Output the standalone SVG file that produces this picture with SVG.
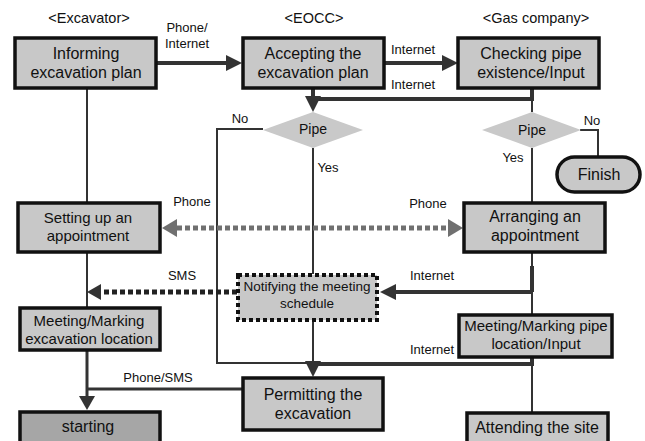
<svg xmlns="http://www.w3.org/2000/svg" width="645" height="441" viewBox="0 0 645 441">
<style>
text{font-family:"Liberation Sans",Arial,sans-serif;fill:#111;text-anchor:middle}
.t{font-size:14.5px}
.b{font-size:16px}
.m{font-size:15px}
.s{font-size:13px}
.box{fill:#c8c8c8;stroke:#111;stroke-width:3.5}
.dark{fill:#a6a6a6}
.dia{fill:#c9c9c9;stroke:none}
.thin{fill:none;stroke:#333;stroke-width:2}
.thick{fill:none;stroke:#333;stroke-width:4}
.mid{fill:none;stroke:#333;stroke-width:3}
.gdot{fill:none;stroke:#707070;stroke-width:5;stroke-dasharray:5 3}
.kdot{fill:none;stroke:#222;stroke-width:5;stroke-dasharray:5 3}
.ndot{fill:#c8c8c8;stroke:#111;stroke-width:4;stroke-dasharray:4 3}
</style>
<defs>
<marker id="ah" markerUnits="userSpaceOnUse" markerWidth="16" markerHeight="16" refX="0" refY="8" orient="auto" overflow="visible">
<path d="M0,0 L16,8 L0,16 z" fill="#333"/>
</marker>
<marker id="ahg" markerUnits="userSpaceOnUse" markerWidth="16" markerHeight="18" refX="0" refY="9" orient="auto-start-reverse" overflow="visible">
<path d="M0,0 L15,9 L0,18 z" fill="#707070"/>
</marker>
<marker id="ahs" markerUnits="userSpaceOnUse" markerWidth="14" markerHeight="16" refX="0" refY="8" orient="auto" overflow="visible">
<path d="M0,0 L14,8 L0,16 z" fill="#333"/>
</marker>
</defs>

<g id="titles">
<text class="t" x="89" y="23">&lt;Excavator&gt;</text>
<text class="t" x="314" y="23">&lt;EOCC&gt;</text>
<text class="t" x="536" y="23">&lt;Gas company&gt;</text>
</g>

<g id="connectors">
<line class="thick" x1="157" y1="63" x2="226" y2="63" marker-end="url(#ah)"/>
<line class="thick" x1="384" y1="63" x2="442" y2="63" marker-end="url(#ah)"/>
<polyline class="thick" points="532,88 532,99 313,99"/>
<line class="thick" x1="313" y1="88" x2="313" y2="96" marker-end="url(#ah)"/>
<line class="thin" x1="532" y1="99" x2="532" y2="112"/>
<polyline class="thin" points="263,129 217,129 217,363 313,363"/>
<line class="thin" x1="313" y1="148" x2="313" y2="274"/>
<polyline class="thin" points="580,130 598,130 598,157"/>
<line class="thin" x1="532" y1="148" x2="532" y2="203"/>
<line class="thin" x1="87" y1="88" x2="87" y2="203"/>
<line class="thin" x1="87" y1="252" x2="87" y2="308"/>
<line class="gdot" x1="177" y1="228" x2="448" y2="228" marker-start="url(#ahg)" marker-end="url(#ahg)"/>
<line class="kdot" x1="237" y1="292" x2="101" y2="292" marker-end="url(#ahs)"/>
<line class="thin" x1="532" y1="252" x2="532" y2="315"/>
<line class="thick" x1="532" y1="266" x2="532" y2="292"/>
<line class="thick" x1="532" y1="292" x2="396" y2="292" marker-end="url(#ah)"/>
<line class="thin" x1="313" y1="320" x2="313" y2="360"/>
<polyline class="thick" points="532,357 532,364 317,364"/>
<line class="thin" x1="313" y1="356" x2="313" y2="361" marker-end="url(#ah)"/>
<line class="thin" x1="532" y1="364" x2="532" y2="413"/>
<polyline class="mid" points="243,389 87,389"/>
<line class="mid" x1="87" y1="350" x2="87" y2="396" marker-end="url(#ahs)"/>
</g>

<g id="conn-labels">
<text class="s" x="187" y="32">Phone/</text>
<text class="s" x="187" y="48">Internet</text>
<text class="s" x="413" y="54">Internet</text>
<text class="s" x="413" y="89">Internet</text>
<text class="s" x="240" y="123">No</text>
<text class="s" x="328" y="172">Yes</text>
<text class="s" x="592" y="125">No</text>
<text class="s" x="513" y="162">Yes</text>
<text class="s" x="192" y="206">Phone</text>
<text class="s" x="428" y="208">Phone</text>
<text class="s" x="182" y="280">SMS</text>
<text class="s" x="432" y="280">Internet</text>
<text class="s" x="432" y="354">Internet</text>
<text class="s" x="158" y="382">Phone/SMS</text>
</g>

<g id="n-informing">
<rect class="box" x="15" y="38" width="141" height="50"/>
<text class="b" x="86" y="59">Informing</text>
<text class="b" x="86" y="78">excavation plan</text>
</g>
<g id="n-accepting">
<rect class="box" x="243" y="38" width="141" height="50"/>
<text class="b" x="313" y="59">Accepting the</text>
<text class="b" x="313" y="78">excavation plan</text>
</g>
<g id="n-checking">
<rect class="box" x="458" y="38" width="141" height="50"/>
<text class="b" x="531" y="59">Checking pipe</text>
<text class="b" x="531" y="78">existence/Input</text>
</g>
<g id="n-pipe1">
<polygon class="dia" points="313,112 363,130 313,148 263,130"/>
<text class="s" x="313" y="134" style="font-size:14px">Pipe</text>
</g>
<g id="n-pipe2">
<polygon class="dia" points="532,112 581,130 532,148 482,130"/>
<text class="s" x="532" y="135" style="font-size:14px">Pipe</text>
</g>
<g id="n-finish">
<rect class="box" x="557" y="157" width="83" height="35" rx="17.5"/>
<text class="b" x="599" y="180">Finish</text>
</g>
<g id="n-setting">
<rect class="box" x="18" y="203" width="142" height="49"/>
<text class="m" x="88" y="223">Setting up an</text>
<text class="m" x="88" y="241">appointment</text>
</g>
<g id="n-arranging">
<rect class="box" x="464" y="203" width="141" height="49"/>
<text class="b" x="535" y="222">Arranging an</text>
<text class="b" x="535" y="241">appointment</text>
</g>
<g id="n-notifying">
<rect class="ndot" x="238" y="275" width="139" height="45"/>
<text x="307" y="291" style="font-size:13.5px">Notifying the meeting</text>
<text x="307" y="308" style="font-size:13.5px">schedule</text>
</g>
<g id="n-meeting-exc">
<rect class="box" x="20" y="308" width="140" height="42"/>
<text class="m" x="89" y="326">Meeting/Marking</text>
<text class="m" x="89" y="344">excavation location</text>
</g>
<g id="n-meeting-pipe">
<rect class="box" x="459" y="315" width="153" height="42"/>
<text class="m" x="536" y="331">Meeting/Marking pipe</text>
<text class="m" x="536" y="349">location/Input</text>
</g>
<g id="n-permitting">
<rect class="box" x="243" y="378" width="140" height="52"/>
<text class="b" x="313" y="400">Permitting the</text>
<text class="b" x="313" y="419">excavation</text>
</g>
<g id="n-starting">
<rect class="box dark" x="20" y="412" width="140" height="40"/>
<text class="b" x="88" y="432">starting</text>
</g>
<g id="n-attending">
<rect class="box" x="467" y="413" width="141" height="40"/>
<text class="b" x="537" y="433">Attending the site</text>
</g>
</svg>
